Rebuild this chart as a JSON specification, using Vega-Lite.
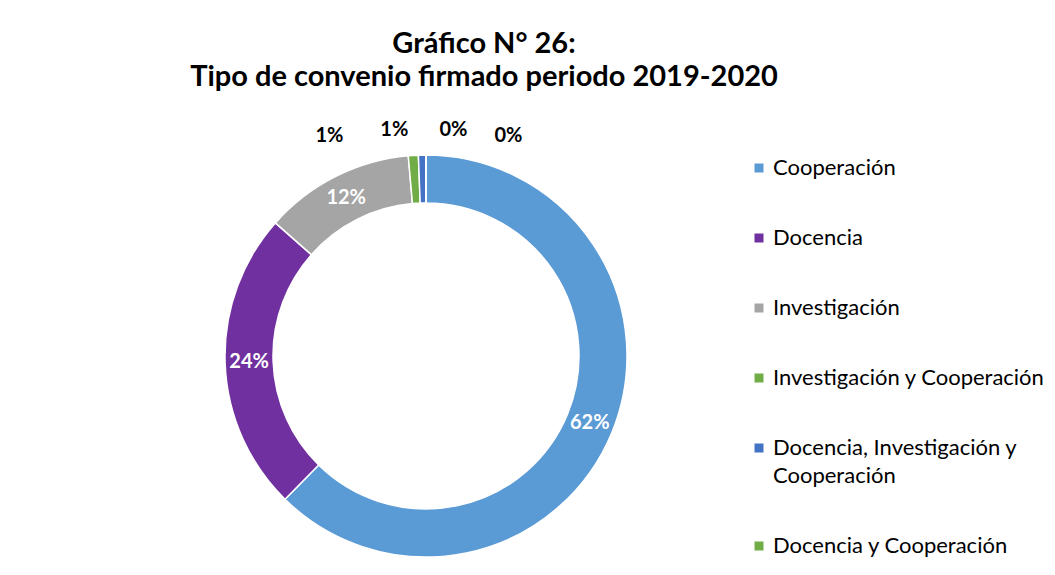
{
  "$schema": "https://vega.github.io/schema/vega-lite/v6.json",
  "width": 852,
  "height": 432,
  "autosize": {"type": "none"},
  "padding": {"left": 0, "top": 140, "right": 203, "bottom": 3},
  "background": "white",
  "config": {"view": {"stroke": null}, "font": "Lato", "style": {"guide-label": {"lineHeight": 28}}},
  "title": {
    "text": ["Gráfico N° 26:", "Tipo de convenio firmado periodo 2019-2020"],
    "fontSize": 29,
    "fontWeight": "bold",
    "font": "Lato",
    "color": "#000000",
    "lineHeight": 33,
    "anchor": "middle",
    "dx": 58,
    "offset": 28
  },
  "data": {
    "values": [
      {"tipo": "Cooperación", "valor": 62},
      {"tipo": "Docencia", "valor": 24},
      {"tipo": "Investigación", "valor": 12},
      {"tipo": "Investigación y Cooperación", "valor": 0.8},
      {"tipo": "Docencia, Investigación y Cooperación", "valor": 0.6},
      {"tipo": "Docencia y Cooperación", "valor": 0},
      {"tipo": "Otros", "valor": 0}
    ]
  },
  "transform": [
    {"window": [{"op": "row_number", "as": "orden"}]},
    {"joinaggregate": [{"op": "sum", "field": "valor", "as": "total"}]},
    {"calculate": "datum.valor / datum.total", "as": "pct"}
  ],
  "encoding": {
    "theta": {"field": "valor", "type": "quantitative", "stack": true},
    "order": {"field": "orden", "type": "quantitative"}
  },
  "layer": [
    {
      "mark": {"type": "arc", "innerRadius": 153, "outerRadius": 201, "stroke": "white", "strokeWidth": 1.5},
      "encoding": {
        "color": {
          "field": "tipo",
          "type": "nominal",
          "scale": {
            "domain": ["Cooperación", "Docencia", "Investigación", "Investigación y Cooperación", "Docencia, Investigación y Cooperación", "Docencia y Cooperación", "Otros"],
            "range": ["#5B9BD5", "#7030A0", "#A5A5A5", "#70AD47", "#4472C4", "#70AD47", "#FFFFFF"]
          },
          "legend": {
            "orient": "none",
            "legendX": 748,
            "legendY": 17,
            "title": null,
            "values": ["Cooperación", "Docencia", "Investigación", "Investigación y Cooperación", "Docencia, Investigación y Cooperación", "Docencia y Cooperación"],
            "symbolType": "square",
            "symbolSize": 81,
            "symbolStrokeWidth": 0,
            "labelFont": "Lato",
            "labelFontSize": 22,
            "labelColor": "#000000",
            "labelOffset": 3,
            "labelLimit": 400,
            "rowPadding": 48,
            "labelExpr": "datum.label == 'Docencia, Investigación y Cooperación' ? ['Docencia, Investigación y', 'Cooperación'] : datum.label"
          }
        }
      }
    },
    {
      "mark": {"type": "text", "radius": 177, "font": "Lato", "fontWeight": "bold", "fontSize": 20, "color": "white"},
      "encoding": {
        "text": {"condition": {"test": "datum.pct < 0.05", "value": ""}, "field": "pct", "type": "quantitative", "format": ".0%"}
      }
    },
    {
      "mark": {"type": "text", "radius": 222, "font": "Lato", "fontWeight": "bold", "fontSize": 20, "color": "black", "dx": {"expr": "(datum.orden - 5.5) * 55"}, "dy": {"expr": "abs(datum.orden - 5.5) < 1 ? -4 : 2"}},
      "encoding": {
        "text": {"condition": {"test": "datum.pct >= 0.05", "value": ""}, "field": "pct", "type": "quantitative", "format": ".0%"}
      }
    }
  ]
}
